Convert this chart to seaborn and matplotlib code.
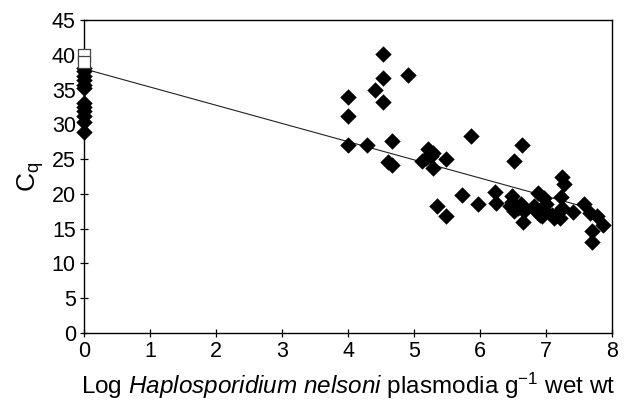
import numpy as np
import pandas as pd
import matplotlib
matplotlib.use("Agg")
import matplotlib.pyplot as plt
import seaborn as sns

# Samples with no plasmodia (x = 0)
zero_cq = [38.1, 37.7, 37.0, 36.4, 35.7, 35.3, 33.1, 32.5, 31.9, 31.2, 30.3, 28.9]
# Negative samples (open squares)
neg_cq = [40.0, 39.0]

# Positive samples
log_plasmodia = [4.00, 4.00, 4.00, 4.28, 4.40, 4.53, 4.53, 4.53, 4.91, 4.66,
                 4.60, 4.66, 5.12, 5.21, 5.25, 5.29, 5.28, 5.18, 5.34, 5.49,
                 5.49, 5.72, 5.86, 5.97, 6.23, 6.24, 6.48, 6.45, 6.51, 6.52,
                 6.63, 6.62, 6.66, 6.65, 6.57, 6.81, 6.87, 6.91, 6.97, 6.97,
                 6.94, 7.12, 7.18, 7.24, 7.27, 7.23, 7.24, 7.21, 7.40, 7.58,
                 7.67, 7.77, 7.86, 7.69, 7.69, 6.49, 7.00, 6.87, 7.09]
cq = [33.9, 31.2, 27.1, 27.1, 35.0, 40.2, 36.7, 33.2, 37.1, 27.6,
      24.6, 24.2, 24.8, 26.4, 25.4, 25.9, 23.7, 25.2, 18.2, 25.0,
      16.8, 19.8, 28.4, 18.6, 20.3, 18.7, 19.7, 18.2, 17.5, 24.7,
      27.0, 18.6, 17.5, 15.9, 18.0, 18.3, 20.1, 17.0, 19.4, 17.7,
      16.8, 16.5, 17.3, 22.4, 21.4, 19.6, 18.0, 16.5, 17.4, 18.6,
      17.3, 16.8, 15.5, 14.7, 13.1, 18.9, 18.5, 17.3, 17.0]

# Regression line
intercept = 38.0
slope = -2.62
line_x = [0.0, 7.7]

sns.set_style("white")
plt.rcParams["font.family"] = ["Liberation Sans", "DejaVu Sans"]
plt.rcParams["mathtext.fontset"] = "custom"
plt.rcParams["mathtext.rm"] = "Liberation Sans"
plt.rcParams["mathtext.it"] = "Liberation Sans:italic"
plt.rcParams["text.color"] = "black"
plt.rcParams["axes.labelcolor"] = "black"
plt.rcParams["xtick.color"] = "black"
plt.rcParams["ytick.color"] = "black"

pts = pd.DataFrame({
    "x": [0.0] * len(zero_cq) + log_plasmodia,
    "y": zero_cq + cq,
})
neg = pd.DataFrame({"x": [0.0] * len(neg_cq), "y": neg_cq})
fit = pd.DataFrame({"x": line_x, "y": [intercept + slope * v for v in line_x]})

fig = plt.figure(figsize=(6.37, 4.04), dpi=100)
ax = fig.add_axes([0.132, 0.176, 0.829, 0.774])

sns.lineplot(data=fit, x="x", y="y", color="#222222", linewidth=0.8, ax=ax)
sns.scatterplot(data=pts, x="x", y="y", marker="D", s=70, color="black",
                edgecolor="black", linewidth=0, ax=ax, clip_on=False, zorder=3)
sns.scatterplot(data=neg, x="x", y="y", marker="s", s=85, color="white",
                edgecolor="#444444", linewidth=0.9, ax=ax, clip_on=False, zorder=4)

ax.set_xlim(0, 8)
ax.set_ylim(0, 45)
ax.set_xticks(range(0, 9))
ax.set_yticks(range(0, 46, 5))
ax.tick_params(bottom=True, left=True, direction="inout", length=6, width=0.9,
               labelsize=15.5, colors="black", pad=3)
for sp in ax.spines.values():
    sp.set_color("black")
    sp.set_linewidth(1.0)

ax.set_xlabel(r"Log $\it{Haplosporidium\ nelsoni}$ plasmodia g$^{-1}$ wet wt",
              fontsize=17.5, labelpad=6)
ax.set_ylabel(r"C$_\mathregular{q}$", fontsize=19, labelpad=4)

fig.savefig("out.png", dpi=100)
